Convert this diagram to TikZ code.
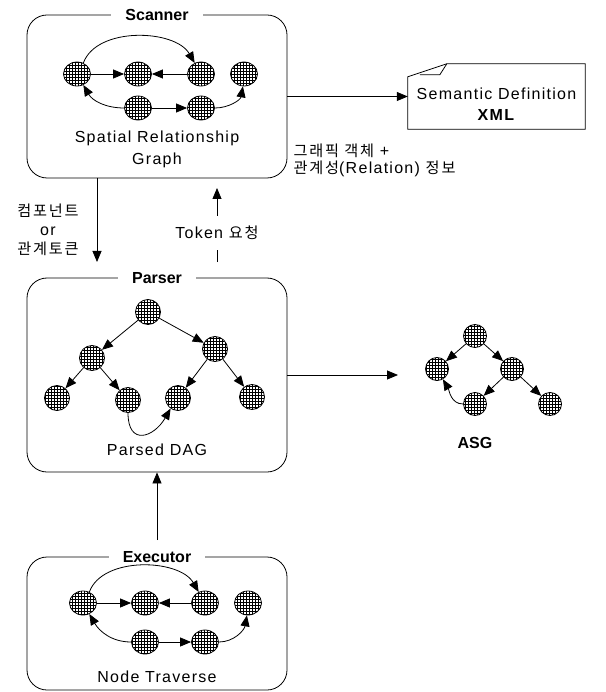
\documentclass[tikz,border=0pt]{standalone}
\usepackage{fontspec}
\setmainfont[LetterSpace=8]{Liberation Sans}
\newfontfamily\titlefont{Liberation Sans}
\newfontfamily\kr[LetterSpace=12,Scale=0.95]{Noto Sans CJK KR}
\usepackage{tikz}
\usetikzlibrary{shapes.geometric,patterns,arrows.meta,positioning}
\tikzstyle{box} = [rectangle, draw, line width=0.8pt, rounded corners=20pt, minimum width=260pt, inner sep=0pt]
\tikzstyle{title} = [fill=white, inner xsep=14pt, inner ysep=2pt, font=\titlefont\bfseries\fontsize{16}{18}\selectfont]
\tikzstyle{lbl} = [align=center, font=\fontsize{16}{22}\selectfont]
\tikzstyle{en} = [ellipse, draw, line width=0.8pt, pattern=grid, minimum width=27pt, minimum height=24pt, inner sep=0pt]
\tikzstyle{pn} = [circle, draw, line width=0.8pt, pattern=grid, minimum size=25pt, inner sep=0pt]
\tikzstyle{an} = [pn, minimum size=23pt]
\tikzstyle{arr} = [-{Triangle[length=11pt,width=9pt]}, line width=0.8pt]

\begin{document}
\begin{tikzpicture}[x=1pt,y=-1pt]
\useasboundingbox (0,0) rectangle (605,692);
\node(S)[box, minimum height=163pt] at (157,96.5) {};
\node(P)[box, minimum height=194pt] at (157,375) {};
\node(E)[box, minimum height=133pt] at (157,623.5) {};
\node(ST)[title] at (S.north) {Scanner};
\node(PT)[title] at (P.north) {Parser};
\node(ET)[title] at (E.north) {Executor};
\node(SL)[lbl] at (157,149) {Spatial Relationship\\Graph};
\node(PL)[lbl] at (157,450) {Parsed DAG};
\node(EL)[lbl] at (157,677) {Node Traverse};

\node(s1)[en] at (77,74) {};
\node(s2)[en] at (138,74) {};
\node(s3)[en] at (201,74) {};
\node(s4)[en] at (244,74) {};
\node(s5)[en] at (138,108) {};
\node(s6)[en] at (201,108) {};
\draw[arr](s1)--(s2);
\draw[arr](s3)--(s2);
\draw[arr](s1.60) to[out=70,in=120,looseness=0.9] (s3.120);
\draw[arr](s5)--(s6);
\draw[arr](s5.west) to[out=180,in=-60] (s1.-60);
\draw[arr](s6.east) to[out=0,in=-100] (s4.-95);

\node(pA)[pn] at (148,312) {};
\node(pB)[pn] at (92,358) {};
\node(pC)[pn] at (215,349) {};
\node(pD)[pn] at (57,398) {};
\node(pE)[pn] at (128,400) {};
\node(pF)[pn] at (178,398) {};
\node(pG)[pn] at (252,397) {};
\draw[arr](pA)--(pB);
\draw[arr](pA)--(pC);
\draw[arr](pB)--(pD);
\draw[arr](pB)--(pE);
\draw[arr](pC)--(pF);
\draw[arr](pC)--(pG);
\draw[arr](pE.-90) to[out=-90,in=-120,looseness=2] (pF.-125);

\node(e1)[en] at (83,603) {};
\node(e2)[en] at (145,603) {};
\node(e3)[en] at (205,603) {};
\node(e4)[en] at (248,603) {};
\node(e5)[en] at (145,642) {};
\node(e6)[en] at (205,642) {};
\draw[arr](e1)--(e2);
\draw[arr](e3)--(e2);
\draw[arr](e1.60) to[out=70,in=120,looseness=0.9] (e3.120);
\draw[arr](e5)--(e6);
\draw[arr](e5.west) to[out=180,in=-60] (e1.-60);
\draw[arr](e6.east) to[out=0,in=-100] (e4.-95);

\node(aA)[an] at (475,336) {};
\node(aB)[an] at (437,369) {};
\node(aC)[an] at (512,369) {};
\node(aD)[an] at (475,404) {};
\node(aE)[an] at (550,404) {};
\draw[arr](aA)--(aB);
\draw[arr](aA)--(aC);
\draw[arr](aC)--(aD);
\draw[arr](aC)--(aE);
\draw[arr](aD.west) to[out=180,in=-60] (aB.-60);
\node(AL)[title, fill=none] at (475,443) {ASG};

\node(D)[minimum width=177pt, minimum height=65pt, inner sep=0pt] at (496.5,96.5) {};
\draw[line width=0.8pt]([yshift=-13pt]D.north west)--([xshift=39pt]D.north west)--(D.north east)--(D.south east)--(D.south west)--cycle;
\draw[line width=0.8pt]([xshift=39pt]D.north west)--([xshift=32pt,yshift=-11pt]D.north west)--([xshift=12pt,yshift=-11pt]D.north west);
\node(DT)[lbl, font=\fontsize{16}{21}\selectfont] at ([yshift=-8pt]D.center) {Semantic Definition\\\textbf{XML}};
\draw[arr](S.east)--(D.west);
\node(R)[lbl, anchor=west, align=left, font=\fontsize{16}{17}\selectfont] at (290,160) {{\kr 그래픽 객체} +\\{\kr 관계성}(Relation) {\kr 정보}};

\coordinate(d1) at (97,178);
\coordinate(d2) at (97,262);
\draw[arr](d1)--(d2);
\node(K)[lbl, font=\fontsize{16}{19}\selectfont] at (48,230) {{\kr 컴포넌트}\\or\\{\kr 관계토큰}};
\coordinate(t1) at (217,262);
\coordinate(t2) at (217,188);
\draw[arr](t1)--(t2) node(TK)[pos=0.39, fill=white, inner ysep=10pt, inner xsep=2pt, font=\fontsize{16}{18}\selectfont] {Token {\kr 요청}};
\draw[arr](P.east)--(398,375) coordinate(AT);
\coordinate(u1) at (157,540);
\draw[arr](u1)--(P.south);
\end{tikzpicture}
\end{document}
